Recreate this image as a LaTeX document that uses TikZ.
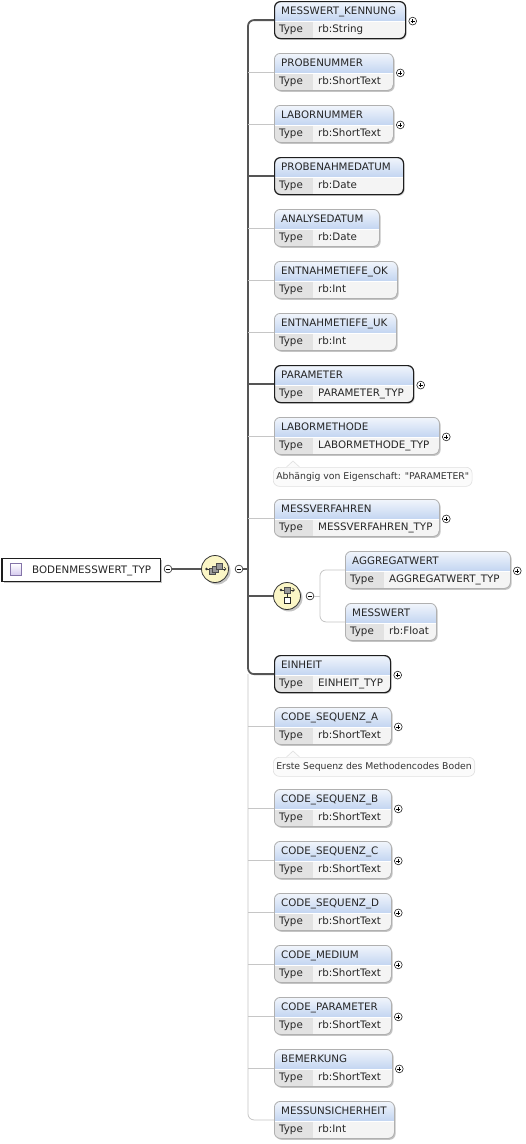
\documentclass[tikz,border=0pt]{standalone}
\usepackage{fontspec}
\setmainfont{DejaVu Sans}
\newfontfamily\annfont{DejaVu Sans}
\usetikzlibrary{calc}
\definecolor{hdtop}{HTML}{F2F6FC}
\definecolor{hdbot}{HTML}{C3D5F1}
\definecolor{typec}{HTML}{E2E2E2}
\definecolor{valc}{HTML}{F4F4F4}
\definecolor{lightb}{HTML}{B0B0B0}
\definecolor{darkb}{HTML}{1E1E1E}
\definecolor{darkl}{HTML}{555555}
\definecolor{lightl}{HTML}{C6C6C6}
\definecolor{shadowc}{HTML}{C4C4C4}
\definecolor{annfill}{HTML}{FBFBFB}
\definecolor{annb}{HTML}{E0E0E0}
\definecolor{seqfill}{HTML}{FBF6C6}
\definecolor{iconfill}{HTML}{D6CBEF}
\definecolor{iconb}{HTML}{8474A8}
\tikzset{
  optbox/.style={draw=lightb, line width=0.8pt},
  reqbox/.style={draw=darkb, line width=1.2pt},
  hdtext/.style={anchor=base west, inner sep=0pt, font=\fontsize{10.3}{12}\selectfont, text=black!85},
  tytext/.style={anchor=base west, inner sep=0pt, font=\fontsize{10.3}{12}\selectfont, text=black!85},
  darkline/.style={draw=darkl, line width=1.8pt},
  lightline/.style={draw=lightl, line width=0.8pt},
  pm/.style={circle, draw=black!85, fill=white, line width=0.6pt, minimum size=7.8pt, inner sep=0pt},
  annbox/.style={draw=annb, fill=annfill, rounded corners=6pt, line width=0.6pt, anchor=north west,
    minimum height=19pt, inner xsep=3pt, inner ysep=0pt, font=\annfont\fontsize{9.3}{11}\selectfont, text=black!80},
  compnode/.style={circle, draw=black!80, fill=seqfill, line width=0.8pt, minimum size=27pt, inner sep=0pt},
}
% plus sign node
\newcommand\plusat[2]{%
  \node[pm] (#1) at (#2) {};
  \draw[line width=0.6pt] ($(#1)+(-2.1,0)$) -- ($(#1)+(2.1,0)$) ($(#1)+(0,-2.1)$) -- ($(#1)+(0,2.1)$);}
\newcommand\minusat[2]{%
  \node[pm] (#1) at (#2) {};
  \draw[line width=0.6pt] ($(#1)+(-2.1,0)$) -- ($(#1)+(2.1,0)$);}
% element box: #1 id, #2 x, #3 top, #4 width, #5 title, #6 type, #7 style
\newcommand\elem[7]{%
  \begin{scope}[shift={(#2,#3)}]
    \fill[shadowc, rounded corners=6pt] (1.6,1.8) rectangle (#4+1.6,38.8);
    \begin{scope}
      \clip[rounded corners=6pt] (0,0) rectangle (#4,37);
      \shade[top color=hdtop, bottom color=hdbot] (0,0) rectangle (#4,20);
      \fill[typec] (0,20) rectangle (39,37);
      \fill[valc] (39,20) rectangle (#4,37);
      \draw[white, line width=0.8pt] (0,20) -- (#4,20);
    \end{scope}
    \node[#7, anchor=north west, minimum width=#4, minimum height=37, inner sep=0pt, rounded corners=6pt] (#1) at (0,0) {};
    \node[hdtext] at (7,13) {#5};
    \node[tytext] at (5,31.5) {Type};
    \node[tytext] at (44,31.5) {#6};
  \end{scope}}
\begin{document}
\begin{tikzpicture}[x=1pt,y=-1pt]
\useasboundingbox (0,0) rectangle (526,1144);
\fill[white] (0,0) rectangle (526,1144);

% ---- root type
\fill[shadowc] (3.5,559.5) rectangle (161.5,583);
\node[draw=darkb, line width=1.2pt, fill=white, anchor=north west, minimum width=158, minimum height=23, inner sep=0pt] (root) at (1.5,557.5) {};
\shade[top color=white, bottom color=iconfill, draw=iconb, line width=0.6pt] (10,563.5) rectangle (21.5,575);
\node[hdtext] (roottext) at (32,573.5) {BODENMESSWERT\_TYP};
\minusat{rootm}{168,569}

% ---- sequence compositor
\fill[shadowc] (217,571) circle (13.5);
\node[compnode] (seq) at (215,569) {};
\draw[black!80, line width=0.6pt] (206.5,569) -- (225,569);
\fill[black!80] (206.5,569) circle (1.3);
\draw[black!80, line width=0.6pt] (224,567) -- (226,569) -- (224,571);
\draw[black!70, fill=black!40, line width=0.4pt] (209,568.5) rectangle (215,574.5);
\draw[black!70, fill=black!40, line width=0.4pt] (212.5,566) rectangle (218.5,572);
\draw[black!70, fill=black!40, line width=0.4pt] (216,563.5) rectangle (222,569.5);
\minusat{seqm}{239,569}
\coordinate (trunk) at (248,569);

\draw[darkline] (rootm.east) -- (seq.west);
\draw[darkline] (seqm.east) -- (trunk);

% ---- elements
\elem{e1}{274}{1}{131}{MESSWERT\_KENNUNG}{rb:String}{reqbox}
\elem{e2}{274}{53}{119}{PROBENUMMER}{rb:ShortText}{optbox}
\elem{e3}{274}{105}{119}{LABORNUMMER}{rb:ShortText}{optbox}
\elem{e4}{274}{157}{129}{PROBENAHMEDATUM}{rb:Date}{reqbox}
\elem{e5}{274}{209}{105}{ANALYSEDATUM}{rb:Date}{optbox}
\elem{e6}{274}{261}{123}{ENTNAHMETIEFE\_OK}{rb:Int}{optbox}
\elem{e7}{274}{313}{122}{ENTNAHMETIEFE\_UK}{rb:Int}{optbox}
\elem{e8}{274}{365}{139}{PARAMETER}{PARAMETER\_TYP}{reqbox}
\elem{e9}{274}{417}{165}{LABORMETHODE}{LABORMETHODE\_TYP}{optbox}
\elem{e10}{274}{499}{165}{MESSVERFAHREN}{MESSVERFAHREN\_TYP}{optbox}
\elem{ca}{345}{551}{165}{AGGREGATWERT}{AGGREGATWERT\_TYP}{optbox}
\elem{cb}{345}{603}{91}{MESSWERT}{rb:Float}{optbox}
\elem{e12}{274}{655}{116}{EINHEIT}{EINHEIT\_TYP}{reqbox}
\elem{e13}{274}{707}{117}{CODE\_SEQUENZ\_A}{rb:ShortText}{optbox}
\elem{e14}{274}{789}{117}{CODE\_SEQUENZ\_B}{rb:ShortText}{optbox}
\elem{e15}{274}{841}{117}{CODE\_SEQUENZ\_C}{rb:ShortText}{optbox}
\elem{e16}{274}{893}{117}{CODE\_SEQUENZ\_D}{rb:ShortText}{optbox}
\elem{e17}{274}{945}{117}{CODE\_MEDIUM}{rb:ShortText}{optbox}
\elem{e18}{274}{997}{117}{CODE\_PARAMETER}{rb:ShortText}{optbox}
\elem{e19}{274}{1049}{118}{BEMERKUNG}{rb:ShortText}{optbox}
\elem{e20}{274}{1101}{120}{MESSUNSICHERHEIT}{rb:Int}{optbox}

% ---- plus signs
\plusat{p1}{$(e1.east)+(6.5,1)$}
\plusat{p2}{$(e2.east)+(6.5,1)$}
\plusat{p3}{$(e3.east)+(6.5,1)$}
\plusat{p8}{$(e8.east)+(6.5,1)$}
\plusat{p9}{$(e9.east)+(6.5,1)$}
\plusat{p10}{$(e10.east)+(6.5,1)$}
\plusat{pca}{$(ca.east)+(6.5,1)$}
\plusat{p12}{$(e12.east)+(6.5,1)$}
\plusat{p13}{$(e13.east)+(6.5,1)$}
\plusat{p14}{$(e14.east)+(6.5,1)$}
\plusat{p15}{$(e15.east)+(6.5,1)$}
\plusat{p16}{$(e16.east)+(6.5,1)$}
\plusat{p17}{$(e17.east)+(6.5,1)$}
\plusat{p18}{$(e18.east)+(6.5,1)$}
\plusat{p19}{$(e19.east)+(6.5,1)$}

% ---- choice compositor
\fill[shadowc] (289,598) circle (13.5);
\node[compnode] (choice) at (287,596) {};
\draw[black!80, line width=0.6pt] (281,590) -- (293.5,590);
\fill[black!80] (281,590) circle (1.3);
\draw[black!80, line width=0.6pt] (292.5,588) -- (294.5,590) -- (292.5,592);
\draw[black!70, fill=black!40, line width=0.4pt] (284,587) rectangle (290.5,593);
\draw[black!80, line width=0.5pt] (287.2,593) -- (287.2,597);
\draw[black!85, fill=white, line width=0.6pt] (284,597) rectangle (290.5,603.5);
\minusat{choicem}{310,596}
\coordinate (ctrunk) at (320,596);

% ---- connectors of the sequence
\draw[darkline, rounded corners=6pt] (e1.west) -- (e1.west -| trunk) -- (e12.west -| trunk) -- (e12.west);
\draw[lightline, rounded corners=6pt] (e12.west -| trunk) -- (e20.west -| trunk) -- (e20.west);
\foreach \n in {e4,e8} \draw[darkline] (\n.west -| trunk) -- (\n.west);
\draw[darkline] (trunk |- choice.west) -- (choice.west);
\foreach \n in {e2,e3,e5,e6,e7,e9,e10,e13,e14,e15,e16,e17,e18,e19}
  \draw[lightline] (\n.west -| trunk) -- (\n.west);

% ---- connectors of the choice
\draw[lightline] (choicem.east) -- (ctrunk);
\draw[lightline, rounded corners=6pt] (ca.west) -- (ca.west -| ctrunk) -- (cb.west -| ctrunk) -- (cb.west);

% ---- annotations
\node[annbox] (ann1) at (273,467) {Abhängig von Eigenschaft: "PARAMETER"};
\fill[annfill] (286.5,467.4) -- (293,461) -- (299.5,467.4) -- cycle;
\draw[annb, line width=0.6pt] (286.5,467) -- (293,461) -- (299.5,467);
\node[annbox] (ann2) at (273,757) {Erste Sequenz des Methodencodes Boden};
\fill[annfill] (286.5,757.4) -- (293,751) -- (299.5,757.4) -- cycle;
\draw[annb, line width=0.6pt] (286.5,757) -- (293,751) -- (299.5,757);
\end{tikzpicture}
\end{document}
